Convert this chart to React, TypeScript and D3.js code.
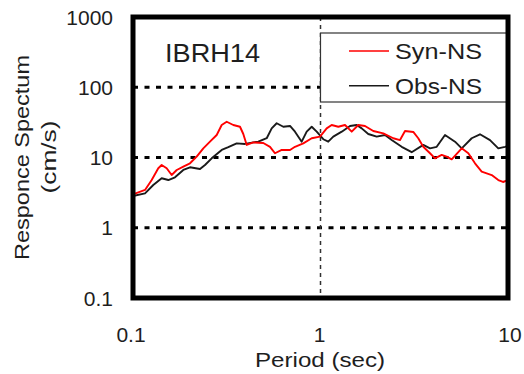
import React from "react";
import * as d3 from "d3";

const synPeriods = [0.1, 0.1159, 0.1258, 0.1364, 0.1422, 0.1512, 0.1608, 0.1711, 0.1855, 0.2014, 0.2186, 0.2371, 0.2574, 0.2795, 0.2972, 0.316, 0.3427, 0.3721, 0.3875, 0.404, 0.4381, 0.4953, 0.5379, 0.5718, 0.6211, 0.6877, 0.7311, 0.8096, 0.8977, 0.9939, 1.079, 1.147, 1.244, 1.351, 1.467, 1.591, 1.727, 1.912, 2.162, 2.445, 2.655, 2.823, 3.125, 3.322, 3.533, 3.837, 4.08, 4.43, 4.71, 5.008, 5.665, 6.143, 6.668, 7.239, 8.187, 8.877, 9.404, 10];
const synValues = [2.99, 3.45, 4.78, 7.02, 7.82, 7.02, 5.63, 6.64, 7.4, 8.27, 10.3, 13.5, 16.8, 20.9, 29.0, 32.3, 29.0, 27.4, 21.6, 15.1, 16.4, 16.1, 14.2, 11.5, 12.8, 12.8, 14.2, 15.9, 18.8, 19.8, 26.0, 29.0, 27.4, 29.0, 23.3, 29.0, 28.1, 23.8, 22.1, 18.8, 17.7, 23.8, 23.1, 18.8, 14.2, 11.5, 9.74, 10.9, 10.3, 9.43, 13.5, 11.5, 8.27, 6.28, 5.63, 4.78, 4.48, 4.78];

const obsPeriods = [0.1, 0.1159, 0.1283, 0.1422, 0.1543, 0.1675, 0.1855, 0.2014, 0.2277, 0.2421, 0.2628, 0.2972, 0.3223, 0.3573, 0.3957, 0.4381, 0.4659, 0.5166, 0.5491, 0.5838, 0.6335, 0.6877, 0.7311, 0.7937, 0.844, 0.8977, 0.9544, 1.035, 1.1, 1.17, 1.298, 1.437, 1.56, 1.659, 1.798, 1.994, 2.208, 2.397, 2.711, 3.064, 3.533, 3.837, 4.166, 4.613, 5.216, 5.665, 6.403, 7.09, 8.017, 8.877, 9.638, 10];
const obsValues = [2.83, 3.09, 4.06, 5.06, 4.78, 5.23, 6.64, 7.25, 6.86, 7.82, 9.74, 12.8, 14.0, 15.9, 15.6, 16.4, 16.8, 18.8, 26.0, 30.7, 27.4, 28.1, 23.3, 16.8, 23.3, 27.4, 23.3, 18.2, 16.8, 19.8, 23.3, 28.1, 29.0, 26.0, 21.6, 19.8, 20.9, 17.7, 14.2, 11.9, 15.1, 13.5, 14.2, 20.9, 16.8, 13.5, 18.8, 21.4, 17.7, 13.5, 14.2, 14.6];

const xTicks = [0.1, 1, 10];
const xTickLabels = ["0.1", "1", "10"];
const yTicks = [0.1, 1, 10, 100, 1000];
const yTickLabels = ["0.1", "1", "10", "100", "1000"];
const yGrid = [1, 10, 100];
const xGrid = [1];
const seriesNames = ["Syn-NS", "Obs-NS"];
const seriesColors = ["#ff0000", "#1a1a1a"];
const stationName = "IBRH14";

export default function App() {
  const W = 524, H = 374;
  const left = 133, right = 508, top = 17, bottom = 298;
  const x = d3.scaleLog().domain([0.1, 10]).range([left, right]);
  const y = d3.scaleLog().domain([0.1, 1000]).range([bottom, top]);
  const line = d3.line<[number, number]>().x(d => x(d[0])).y(d => y(d[1]));
  const syn = synPeriods.map((p, i) => [p, synValues[i]] as [number, number]);
  const obs = obsPeriods.map((p, i) => [p, obsValues[i]] as [number, number]);
  const font = "'Liberation Sans', Arial, sans-serif";
  const ink = "#1e1e1e";

  return (
    <svg width={W} height={H} style={{ position: "absolute", left: 0, top: 0, background: "#fff" }} fontFamily={font}>
      <rect x={0} y={0} width={W} height={H} fill="#fff" />
      {yGrid.map(v => (
        <line key={"yg" + v} x1={left} x2={right} y1={y(v)} y2={y(v)} stroke="#000" strokeWidth={3} strokeDasharray="5,6.5" />
      ))}
      {xGrid.map(v => (
        <line key={"xg" + v} x1={x(v)} x2={x(v)} y1={top} y2={bottom} stroke="#333" strokeWidth={1.5} strokeDasharray="4,4" />
      ))}
      <path d={line(obs) || ""} fill="none" stroke={seriesColors[1]} strokeWidth={1.9} strokeLinejoin="round" />
      <path d={line(syn) || ""} fill="none" stroke={seriesColors[0]} strokeWidth={1.9} strokeLinejoin="round" />
      {/* legend */}
      <rect x={x(1)} y={33} width={187} height={69} fill="#fff" stroke="#333" strokeWidth={1.2} />
      {seriesNames.map((n, i) => (
        <g key={n}>
          <line x1={349} x2={389} y1={51 + i * 34.7} y2={51 + i * 34.7} stroke={seriesColors[i]} strokeWidth={1.6} />
          <text x={395} y={59.3 + i * 34.7} fontSize={22} fill={ink} textLength={87} lengthAdjust="spacingAndGlyphs">{n}</text>
        </g>
      ))}
      {/* frame */}
      <rect x={left} y={top} width={right - left} height={bottom - top} fill="none" stroke="#000" strokeWidth={5} />
      <text x={165} y={62} fontSize={25} fill={ink} textLength={95} lengthAdjust="spacingAndGlyphs">{stationName}</text>
      {yTicks.map((v, i) => (
        <text key={"yt" + v} x={113} y={y(v) + 7.5} fontSize={21} textAnchor="end" fill={ink}>{yTickLabels[i]}</text>
      ))}
      {xTicks.map((v, i) => (
        <text key={"xt" + v} x={x(v) + (i === 0 ? -2 : i === 2 ? 2 : -1)} y={342} fontSize={21} textAnchor="middle" fill={ink}>{xTickLabels[i]}</text>
      ))}
      <text x={320} y={367} fontSize={21} textAnchor="middle" fill={ink} textLength={130} lengthAdjust="spacingAndGlyphs">Period (sec)</text>
      <g transform="translate(29,157.5) rotate(-90)">
        <text x={0} y={0} fontSize={21} textAnchor="middle" fill={ink} textLength={205} lengthAdjust="spacingAndGlyphs">Responce Spectum</text>
      </g>
      <g transform="translate(56,157) rotate(-90)">
        <text x={0} y={0} fontSize={21} textAnchor="middle" fill={ink} textLength={73} lengthAdjust="spacingAndGlyphs">(cm/s)</text>
      </g>
    </svg>
  );
}
